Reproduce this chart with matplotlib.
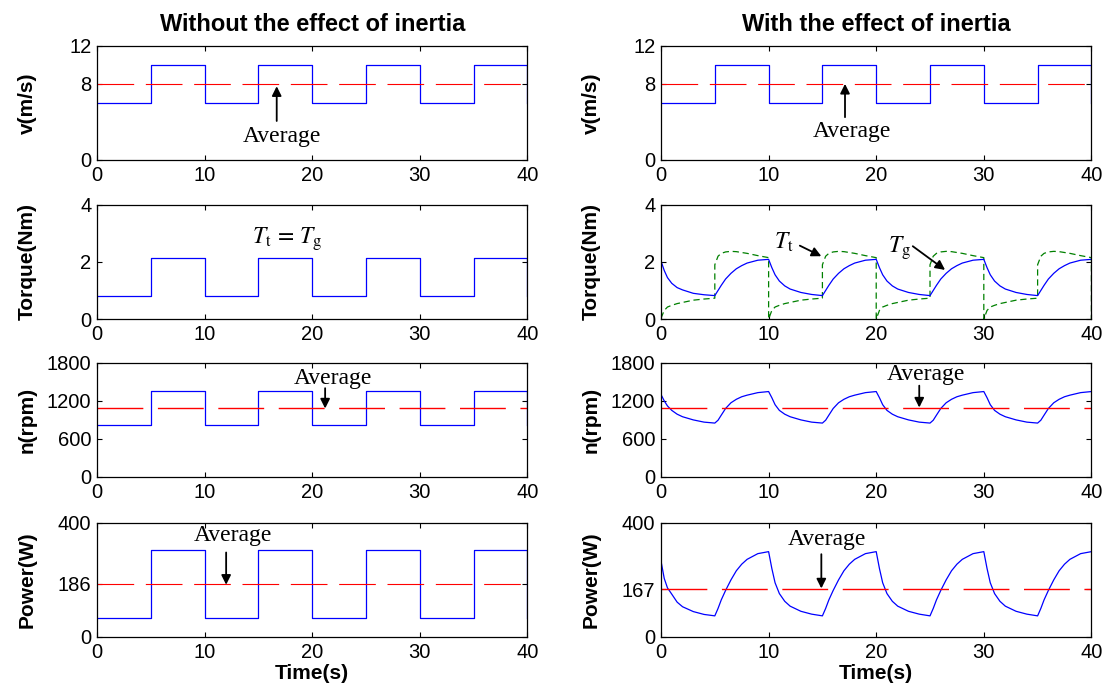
import matplotlib
matplotlib.use('Agg')
import matplotlib.pyplot as plt

plt.rcParams['font.family'] = ['Liberation Sans', 'DejaVu Sans']
plt.rcParams['mathtext.fontset'] = 'stix'

# ---- square-wave data (without inertia) ----
t_edges = [0, 5, 10, 15, 20, 25, 30, 35, 40]
v_wind = [6, 10, 6, 10, 6, 10, 6, 10, 6]
torque_static = [0.8, 2.15, 0.8, 2.15, 0.8, 2.15, 0.8, 2.15, 0.8]
n_static = [820, 1358, 820, 1358, 820, 1358, 820, 1358, 820]
p_static = [68, 306, 68, 306, 68, 306, 68, 306, 68]

v_avg = 8
n_avg = 1090
p_avg_static = 186
p_avg_dyn = 167

# ---- dynamic data (with inertia) ----
t_dyn = [0, 0.3, 0.6, 1, 1.5, 2, 3, 4, 5, 5.3, 5.6, 6, 6.5, 7, 7.5, 8, 9,
         10, 10.3, 10.6, 11, 11.5, 12, 13, 14, 15, 15.3, 15.6, 16, 16.5, 17, 17.5, 18, 19,
         20, 20.3, 20.6, 21, 21.5, 22, 23, 24, 25, 25.3, 25.6, 26, 26.5, 27, 27.5, 28, 29,
         30, 30.3, 30.6, 31, 31.5, 32, 33, 34, 35, 35.3, 35.6, 36, 36.5, 37, 37.5, 38, 39,
         40]
n_dyn = [1300, 1200, 1120, 1050, 990, 950, 900, 865, 850, 895, 975, 1080, 1170, 1225, 1265, 1290, 1330,
         1347, 1250, 1140, 1050, 990, 950, 900, 865, 850, 895, 975, 1080, 1170, 1225, 1265, 1290, 1330,
         1347, 1250, 1140, 1050, 990, 950, 900, 865, 850, 895, 975, 1080, 1170, 1225, 1265, 1290, 1330,
         1347, 1250, 1140, 1050, 990, 950, 900, 865, 850, 895, 975, 1080, 1170, 1225, 1265, 1290, 1330,
         1347]
p_dyn = [266, 205, 172, 150, 122, 106, 89, 79, 74, 100, 130, 163, 200, 232, 255, 272, 292,
         299, 240, 190, 152, 125, 108, 90, 80, 74, 100, 130, 163, 200, 232, 255, 272, 292,
         299, 240, 190, 152, 125, 108, 90, 80, 74, 100, 130, 163, 200, 232, 255, 272, 292,
         299, 240, 190, 152, 125, 108, 90, 80, 74, 100, 130, 163, 200, 232, 255, 272, 292,
         299]
tg_dyn = [2.03, 1.70, 1.45, 1.25, 1.10, 1.02, 0.90, 0.85, 0.82, 1.00, 1.18, 1.40, 1.60, 1.76, 1.87, 1.96, 2.06,
          2.09, 1.80, 1.55, 1.33, 1.16, 1.05, 0.93, 0.86, 0.82, 1.00, 1.18, 1.40, 1.60, 1.76, 1.87, 1.96, 2.06,
          2.09, 1.80, 1.55, 1.33, 1.16, 1.05, 0.93, 0.86, 0.82, 1.00, 1.18, 1.40, 1.60, 1.76, 1.87, 1.96, 2.06,
          2.09, 1.80, 1.55, 1.33, 1.16, 1.05, 0.93, 0.86, 0.82, 1.00, 1.18, 1.40, 1.60, 1.76, 1.87, 1.96, 2.06,
          2.09]
t_tt = [0, 0.3, 0.6, 1, 1.5, 2, 3, 4, 5, 5, 5.3, 5.6, 6, 6.5, 7, 7.5, 8, 9, 10,
        10, 10.3, 10.6, 11, 11.5, 12, 13, 14, 15, 15, 15.3, 15.6, 16, 16.5, 17, 17.5, 18, 19, 20,
        20, 20.3, 20.6, 21, 21.5, 22, 23, 24, 25, 25, 25.3, 25.6, 26, 26.5, 27, 27.5, 28, 29, 30,
        30, 30.3, 30.6, 31, 31.5, 32, 33, 34, 35, 35, 35.3, 35.6, 36, 36.5, 37, 37.5, 38, 39, 40,
        40]
tt_dyn = [0.03, 0.30, 0.42, 0.48, 0.54, 0.58, 0.66, 0.70, 0.73, 1.90, 2.20, 2.30, 2.35, 2.37, 2.36, 2.33, 2.30, 2.22, 2.15,
          0.0, 0.30, 0.42, 0.48, 0.54, 0.58, 0.66, 0.70, 0.73, 1.90, 2.20, 2.30, 2.35, 2.37, 2.36, 2.33, 2.30, 2.22, 2.15,
          0.0, 0.30, 0.42, 0.48, 0.54, 0.58, 0.66, 0.70, 0.73, 1.90, 2.20, 2.30, 2.35, 2.37, 2.36, 2.33, 2.30, 2.22, 2.15,
          0.0, 0.30, 0.42, 0.48, 0.54, 0.58, 0.66, 0.70, 0.73, 1.90, 2.20, 2.30, 2.35, 2.37, 2.36, 2.33, 2.30, 2.22, 2.15,
          0.0]

BLUE = '#0000ff'
RED = '#ff0000'
GREEN = '#008000'
AVG_DASH = (0, (33, 10.5))
TICK_FS = 14.5
LABEL_FS = 15
NOTE_FS = 17

fig = plt.figure(figsize=(11.05, 6.92), dpi=100)

col_left = [0.0878, 0.5982]
col_width = 0.3895
row_bottom = [0.7688, 0.5390, 0.3107, 0.0795]
row_height = 0.1650

axes = [[fig.add_axes([col_left[c], row_bottom[r], col_width, row_height]) for c in range(2)]
        for r in range(4)]


def style(ax, ylim, yticks, ylabel):
    ax.set_xlim(0, 40)
    ax.set_ylim(*ylim)
    ax.set_xticks([0, 10, 20, 30, 40])
    ax.set_yticks(yticks)
    ax.tick_params(direction='in', top=True, right=True, length=3.5, width=0.8,
                   labelsize=TICK_FS, pad=4)
    for s in ax.spines.values():
        s.set_linewidth(0.9)
    ax.set_ylabel(ylabel, fontsize=LABEL_FS, fontweight='bold')
    ax.yaxis.set_label_coords(-0.14, 0.5)


def arrow(ax, tail, tip):
    ax.annotate('', xy=tip, xytext=tail,
                arrowprops=dict(arrowstyle='-|>', color='k', lw=1.3, mutation_scale=14,
                                shrinkA=0, shrinkB=0))


def avg_note(ax, text_xy, tail, tip):
    arrow(ax, tail, tip)
    ax.text(text_xy[0], text_xy[1], 'Average', ha='center', va='center',
            fontsize=NOTE_FS, family='Liberation Serif')


# ---- row 1: wind speed ----
for c in range(2):
    ax = axes[0][c]
    ax.step(t_edges, v_wind, where='post', color=BLUE, lw=0.9)
    ax.plot([0, 40], [v_avg, v_avg], color=RED, lw=0.8, linestyle=AVG_DASH)
    style(ax, (0, 12), [0, 8, 12], 'v(m/s)')
avg_note(axes[0][0], (17.2, 2.5), (16.7, 4.1), (16.7, 7.75))
avg_note(axes[0][1], (17.7, 3.0), (17.1, 4.5), (17.1, 8.0))
axes[0][0].set_title('Without the effect of inertia', fontsize=17, fontweight='bold', pad=11)
axes[0][1].set_title('With the effect of inertia', fontsize=17, fontweight='bold', pad=11)

# ---- row 2: torque ----
ax = axes[1][0]
ax.step(t_edges, torque_static, where='post', color=BLUE, lw=0.9)
style(ax, (0, 4), [0, 2, 4], 'Torque(Nm)')
ax.text(17.7, 2.8, r'$T_{\mathrm{t}}\,=\,T_{\mathrm{g}}$', ha='center', va='center', fontsize=NOTE_FS)

ax = axes[1][1]
ax.plot(t_tt, tt_dyn, color=GREEN, lw=0.9, linestyle=(0, (5, 3)))
ax.plot(t_dyn, tg_dyn, color=BLUE, lw=0.9)
style(ax, (0, 4), [0, 2, 4], 'Torque(Nm)')
ax.text(11.4, 2.7, r'$T_{\mathrm{t}}$', ha='center', va='center', fontsize=NOTE_FS)
arrow(ax, (12.9, 2.57), (14.9, 2.2))
ax.text(22.2, 2.5, r'$T_{\mathrm{g}}$', ha='center', va='center', fontsize=NOTE_FS)
arrow(ax, (23.4, 2.55), (26.4, 1.72))

# ---- row 3: rotational speed ----
ax = axes[2][0]
ax.step(t_edges, n_static, where='post', color=BLUE, lw=0.9)
ax.plot([0, 40], [n_avg, n_avg], color=RED, lw=1.0, linestyle=AVG_DASH)
style(ax, (0, 1800), [0, 600, 1200, 1800], 'n(rpm)')
avg_note(ax, (21.9, 1560), (21.2, 1400), (21.2, 1080))

ax = axes[2][1]
ax.plot(t_dyn, n_dyn, color=BLUE, lw=0.9)
ax.plot([0, 40], [n_avg, n_avg], color=RED, lw=1.0, linestyle=AVG_DASH)
style(ax, (0, 1800), [0, 600, 1200, 1800], 'n(rpm)')
avg_note(ax, (24.6, 1610), (24.0, 1440), (24.0, 1095))

# ---- row 4: power ----
ax = axes[3][0]
ax.step(t_edges, p_static, where='post', color=BLUE, lw=0.9)
ax.plot([0, 40], [p_avg_static, p_avg_static], color=RED, lw=0.8, linestyle=AVG_DASH)
style(ax, (0, 400), [0, p_avg_static, 400], 'Power(W)')
avg_note(ax, (12.6, 355), (12.0, 296), (12.0, 183))
ax.set_xlabel('Time(s)', fontsize=LABEL_FS, fontweight='bold', labelpad=2)

ax = axes[3][1]
ax.plot(t_dyn, p_dyn, color=BLUE, lw=0.9)
ax.plot([0, 40], [p_avg_dyn, p_avg_dyn], color=RED, lw=1.0, linestyle=AVG_DASH)
style(ax, (0, 400), [0, p_avg_dyn, 400], 'Power(W)')
avg_note(ax, (15.4, 343), (14.9, 290), (14.9, 170))
ax.set_xlabel('Time(s)', fontsize=LABEL_FS, fontweight='bold', labelpad=2)

fig.savefig('out.png', dpi=100)
